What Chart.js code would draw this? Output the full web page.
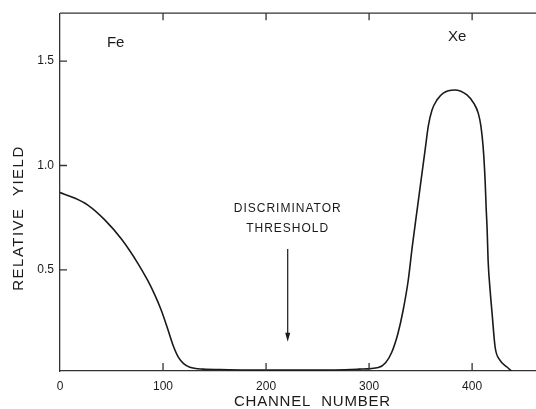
<!DOCTYPE html>
<html>
<head>
    <title>Relative yield</title>
    <script src="https://cdn.jsdelivr.net/npm/chart.js@4/dist/chart.umd.min.js"></script>
    <style>
        body { margin: 0; background: #fff; }
    </style>
</head>
<body>
    <canvas id="yield" width="536" height="409"></canvas>
    <script>
        // curve: channel number vs relative yield
        const channels = [0, 14.6, 27, 43.7, 60, 75.7, 85, 92, 98, 104, 110, 115, 120, 126, 139, 155, 200, 250, 290, 309, 316, 322, 328, 333, 338, 342, 347.5, 351, 354.5, 357.5, 361, 366, 372, 383, 395, 402, 406, 408.5, 410.7, 412.6, 413.6, 414.6, 415.5, 417.5, 419.4, 422.3, 427, 433.8, 438.8];
        const yieldValues = [0.87, 0.843, 0.81, 0.738, 0.645, 0.53, 0.45, 0.38, 0.31, 0.225, 0.135, 0.08, 0.05, 0.033, 0.024, 0.022, 0.019, 0.019, 0.024, 0.032, 0.055, 0.105, 0.195, 0.305, 0.45, 0.615, 0.82, 0.95, 1.08, 1.19, 1.265, 1.315, 1.347, 1.362, 1.338, 1.295, 1.25, 1.19, 1.088, 0.93, 0.80, 0.69, 0.547, 0.40, 0.29, 0.13, 0.067, 0.034, 0.012];

        const xTicks = [0, 100, 200, 300, 400];
        const yTicks = [0.5, 1.0, 1.5];

        const peakLabels = [
            { text: 'Fe', x: 54, y: 1.59 },
            { text: 'Xe', x: 385.5, y: 1.615 }
        ];
        const thresholdText = ['DISCRIMINATOR', 'THRESHOLD'];
        const thresholdChannel = 221;
        const arrowFrom = 0.6;
        const arrowTo = 0.155;

        const ink = '#1a1a1a';
        const font = '"Liberation Sans", Arial, sans-serif';

        const points = channels.map((c, i) => ({ x: c, y: yieldValues[i] }));

        // ticks drawn inward, top frame line, titles and notes
        const decorations = {
            id: 'decorations',
            afterDraw(chart) {
                const ctx = chart.ctx;
                const xs = chart.scales.x, ys = chart.scales.y;
                const area = chart.chartArea;
                ctx.save();
                ctx.strokeStyle = '#333';
                ctx.lineWidth = 1.3;
                ctx.beginPath();
                ctx.moveTo(area.left, area.top);
                ctx.lineTo(area.right, area.top);
                xTicks.forEach(v => {
                    if (v === 0) return;
                    const px = xs.getPixelForValue(v);
                    ctx.moveTo(px, area.bottom);
                    ctx.lineTo(px, area.bottom - 8);
                    ctx.moveTo(px, area.top);
                    ctx.lineTo(px, area.top + 7);
                });
                yTicks.forEach(v => {
                    const py = ys.getPixelForValue(v);
                    ctx.moveTo(area.left, py);
                    ctx.lineTo(area.left + 7, py);
                });
                ctx.stroke();

                ctx.fillStyle = ink;
                ctx.textAlign = 'center';
                ctx.textBaseline = 'middle';

                ctx.font = '15px ' + font;
                peakLabels.forEach(l => {
                    ctx.fillText(l.text, xs.getPixelForValue(l.x), ys.getPixelForValue(l.y));
                });

                ctx.font = '12px ' + font;
                ctx.letterSpacing = '1px';
                const ax = xs.getPixelForValue(thresholdChannel);
                ctx.fillText(thresholdText[0], ax, 209);
                ctx.fillText(thresholdText[1], ax, 229);

                // arrow
                const y0 = ys.getPixelForValue(arrowFrom), y1 = ys.getPixelForValue(arrowTo);
                ctx.strokeStyle = ink;
                ctx.lineWidth = 1.2;
                ctx.beginPath();
                ctx.moveTo(ax, y0);
                ctx.lineTo(ax, y1 - 6);
                ctx.stroke();
                ctx.beginPath();
                ctx.moveTo(ax, y1);
                ctx.lineTo(ax - 2.5, y1 - 9);
                ctx.lineTo(ax + 2.5, y1 - 9);
                ctx.closePath();
                ctx.fill();

                // axis titles
                ctx.font = '15px ' + font;
                ctx.letterSpacing = '0.8px';
                ctx.fillText('CHANNEL  NUMBER', xs.getPixelForValue(245), 402);
                ctx.letterSpacing = '1.5px';
                ctx.translate(19, 218);
                ctx.rotate(-Math.PI / 2);
                ctx.fillText('RELATIVE  YIELD', 0, 0);
                ctx.restore();
            }
        };

        const ctx = document.getElementById('yield').getContext('2d');
        const chart = new Chart(ctx, {
            type: 'line',
            data: {
                datasets: [{
                    data: points,
                    borderColor: ink,
                    borderWidth: 1.6,
                    fill: false,
                    pointRadius: 0,
                    cubicInterpolationMode: 'monotone'
                }]
            },
            options: {
                animation: false,
                responsive: false,
                layout: { padding: { top: 13, right: 0, left: 0, bottom: 0 } },
                plugins: {
                    legend: { display: false },
                    tooltip: { enabled: false }
                },
                scales: {
                    x: {
                        type: 'linear',
                        min: 0,
                        max: 462,
                        afterFit(scale) { scale.height = 38; scale.paddingRight = 0; },
                        grid: { display: false, drawTicks: false },
                        border: { display: true, color: '#333', width: 1.3 },
                        ticks: {
                            stepSize: 100,
                            includeBounds: false,
                            padding: 8,
                            color: ink,
                            font: { family: font, size: 12 },
                            maxRotation: 0,
                            callback: v => xTicks.includes(v) ? String(v) : ''
                        }
                    },
                    y: {
                        min: 0.015,
                        max: 1.73,
                        afterFit(scale) { scale.width = 60; },
                        grid: { display: false, drawTicks: false },
                        border: { display: true, color: '#333', width: 1.3 },
                        ticks: {
                            stepSize: 0.5,
                            padding: 6,
                            color: ink,
                            font: { family: font, size: 12 },
                            callback: v => yTicks.some(t => Math.abs(t - v) < 1e-6) ? v.toFixed(1) : ''
                        }
                    }
                }
            },
            plugins: [decorations]
        });
    </script>
</body>
</html>
